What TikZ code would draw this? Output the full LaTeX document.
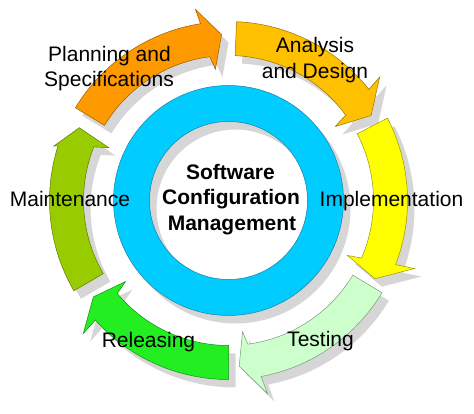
\documentclass[tikz,border=0pt]{standalone}
\usepackage{fontspec}
\setmainfont{Liberation Sans}
\definecolor{ringblue}{HTML}{00CCFF}
\definecolor{ringedge}{HTML}{1E7FA0}
\definecolor{shadowgray}{HTML}{D6D6D6}
\definecolor{planorange}{HTML}{FF9900}
\definecolor{analysisgold}{HTML}{FFC000}
\definecolor{implyellow}{HTML}{FFFF00}
\definecolor{testgreen}{HTML}{CCFFCC}
\definecolor{relgreen}{HTML}{22EE22}
\definecolor{maintgreen}{HTML}{99CC00}
% #1 style, #2 tail angle, #3 outer notch angle, #4 inner notch angle,
% #5 outer barb angle, #6 outer barb radius, #7 inner barb angle, #8 inner barb radius, #9 tip angle
\newcommand\cycarrow[9]{%
  \path[#1] (#2:179) arc[start angle=#2, end angle=#3, radius=179pt]
    -- (#5:#6) -- (#9:166) -- (#7:#8) -- (#4:145)
    arc[start angle=#4, end angle=#2, radius=145pt] -- cycle;}
\newcommand\allarrows[6]{%
  \cycarrow{#1}{148.8}{99}{97.4}{99.8}{194}{95.7}{132}{92.4}%
  \cycarrow{#2}{87.4}{38.4}{36.1}{39.2}{195}{34.7}{130}{30.8}%
  \cycarrow{#3}{27.4}{-21}{-23.4}{-20.1}{198}{-24.8}{131}{-28.1}%
  \cycarrow{#4}{-31}{-79.5}{-82.3}{-78.6}{197}{-83.9}{132}{-86.3}%
  \cycarrow{#5}{-90}{-138.1}{-140.1}{-137.5}{197}{-141.8}{131}{-144.5}%
  \cycarrow{#6}{210.3}{162.2}{158.3}{162.7}{183}{156.2}{131}{154}}
\tikzset{
  arrowshape/.style={fill=#1, draw=#1!60!black, line width=0.5pt, line join=miter},
  shadowshape/.style={fill=shadowgray, draw=none},
  lbl/.style={inner sep=0pt, anchor=base, font=\fontsize{21}{25}\selectfont},
  ctr/.style={inner sep=0pt, anchor=base, font=\fontsize{21}{25}\selectfont\bfseries}
}
\begin{document}
\begin{tikzpicture}[x=1pt, y=1pt]
\useasboundingbox (0,0) rectangle (474,414);
\fill[white] (0,0) rectangle (474,414);
\begin{scope}[shift={(228.5,213.5)}]
  % shadows
  \begin{scope}[shift={(7,-8)}]
    \path[shadowshape, even odd rule] (0,0) circle[radius=115pt] (0,0) circle[radius=79pt];
    \allarrows{shadowshape}{shadowshape}{shadowshape}{shadowshape}{shadowshape}{shadowshape}
  \end{scope}
  % central ring
  \path[fill=ringblue, draw=ringedge, line width=0.5pt, even odd rule]
    (0,0) circle[radius=115pt] (0,0) circle[radius=79pt];
  % cycle arrows
  \allarrows{arrowshape=planorange}{arrowshape=analysisgold}{arrowshape=implyellow}{arrowshape=testgreen}{arrowshape=relgreen}{arrowshape=maintgreen}
\end{scope}
% labels
\node[lbl] (plan1) at (109.5,352) {Planning and};
\node[lbl] (plan2) at (109,327) {Specifications};
\node[lbl] (ana1) at (315,361) {Analysis};
\node[lbl] (ana2) at (315,335) {and Design};
\node[lbl] (impl) at (391.5,207.5) {Implementation};
\node[lbl] (test) at (320.5,67) {Testing};
\node[lbl] (rel) at (148.5,66) {Releasing};
\node[lbl] (maint) at (70,207) {Maintenance};
\node[ctr] (scm1) at (230.5,234.7) {Software};
\node[ctr] (scm2) at (231,209) {Configuration};
\node[ctr] (scm3) at (232,183) {Management};
\end{tikzpicture}
\end{document}
